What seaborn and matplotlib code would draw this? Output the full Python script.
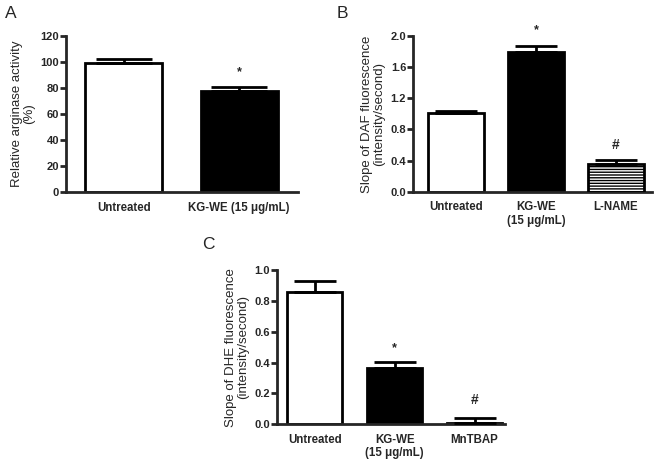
import matplotlib
matplotlib.use("Agg")
import matplotlib.pyplot as plt
import seaborn as sns
import numpy as np
import pandas as pd

# ---- data ----
a_cats = ["Untreated", "KG-WE (15 μg/mL)"]
a_vals = [99.5, 78.0]
a_errs = [3.0, 2.8]

b_cats = ["Untreated", "KG-WE\n(15 μg/mL)", "L-NAME"]
b_vals = [1.01, 1.79, 0.35]
b_errs = [0.03, 0.08, 0.06]

c_cats = ["Untreated", "KG-WE\n(15 μg/mL)", "MnTBAP"]
c_vals = [0.86, 0.367, 0.01]
c_errs = [0.07, 0.035, 0.033]

sns.set_theme(style="ticks")
plt.rcParams['font.family'] = ['Liberation Sans', 'DejaVu Sans']

fig = plt.figure(figsize=(6.61, 4.67), dpi=100)

def panel(rect, cats, vals, errs, colors, ylim, yticks, yfmt, ylabel, width, xlim,
          capsize, marks, mark_y, letter, letter_xy, hatch_idx=None):
    ax = fig.add_axes(rect)
    df = pd.DataFrame({"cat": cats, "val": vals})
    sns.barplot(data=df, x="cat", y="val", hue="cat", palette=colors,
                edgecolor="black", linewidth=2, width=width, ax=ax,
                legend=False, saturation=1)
    x = np.arange(len(cats))
    ax.errorbar(x, vals, yerr=[np.zeros(len(vals)), errs], fmt="none",
                ecolor="black", elinewidth=2, capsize=capsize, capthick=2, zorder=5)
    if hatch_idx is not None:
        p = ax.patches[hatch_idx]
        p.set_facecolor("black")
        p.set_edgecolor("white")
        p.set_linewidth(0)
        p.set_hatch("------")
        r = plt.Rectangle(p.get_xy(), p.get_width(), p.get_height(), fill=False,
                          edgecolor="black", linewidth=2, zorder=4)
        ax.add_patch(r)
    for i, (m, my) in enumerate(zip(marks, mark_y)):
        if m:
            ax.text(i, my, m, ha="center", va="center", fontsize=10 if m == "#" else 9,
                    fontweight="bold")
    ax.set_ylim(*ylim)
    ax.set_xlim(*xlim)
    ax.set_yticks(yticks)
    ax.set_yticklabels([yfmt.format(t) for t in yticks], fontsize=8, fontweight="bold")
    ax.set_xticks(x)
    ax.set_xticklabels(cats, fontsize=8.3, fontweight="bold", linespacing=1.15)
    ax.tick_params(axis="x", length=0, pad=7)
    ax.tick_params(axis="y", length=4, width=2, pad=1)
    ax.set_xlabel("")
    ax.set_ylabel(ylabel, fontsize=9.5, labelpad=4, linespacing=1.0)
    for s in ["top", "right"]:
        ax.spines[s].set_visible(False)
    for s in ["left", "bottom"]:
        ax.spines[s].set_linewidth(2)
    fig.text(letter_xy[0], letter_xy[1], letter, fontsize=12.5, ha="center", va="center")
    return ax

panel([0.0999, 0.589, 0.351, 0.334], a_cats, a_vals, a_errs, ["white", "black"],
      (0, 120), [0, 20, 40, 60, 80, 100, 120], "{:.0f}",
      "Relative arginase activity\n(%)", 0.67, (-0.5, 1.51), 20,
      ["", "*"], [None, 92], "A", (11 / 661, 1 - 14 / 467))

panel([0.625, 0.5895, 0.361, 0.3335], b_cats, b_vals, b_errs, ["white", "black", "black"],
      (0, 2.0), [0.0, 0.4, 0.8, 1.2, 1.6, 2.0], "{:.1f}",
      "Slope of DAF fluorescence\n(intensity/second)", 0.7, (-0.54, 2.45), 15,
      ["", "*", "#"], [None, 2.08, 0.6], "B", (342 / 661, 1 - 14 / 467), hatch_idx=2)

panel([0.419, 0.0914, 0.345, 0.3306], c_cats, c_vals, c_errs, ["white", "black", "black"],
      (0, 1.0), [0.0, 0.2, 0.4, 0.6, 0.8, 1.0], "{:.1f}",
      "Slope of DHE fluorescence\n(intensity/second)", 0.68, (-0.47, 2.38), 15,
      ["", "*", "#"], [None, 0.49, 0.16], "C", (208 / 661, 1 - 245 / 467))

fig.savefig("out.png", dpi=100)
